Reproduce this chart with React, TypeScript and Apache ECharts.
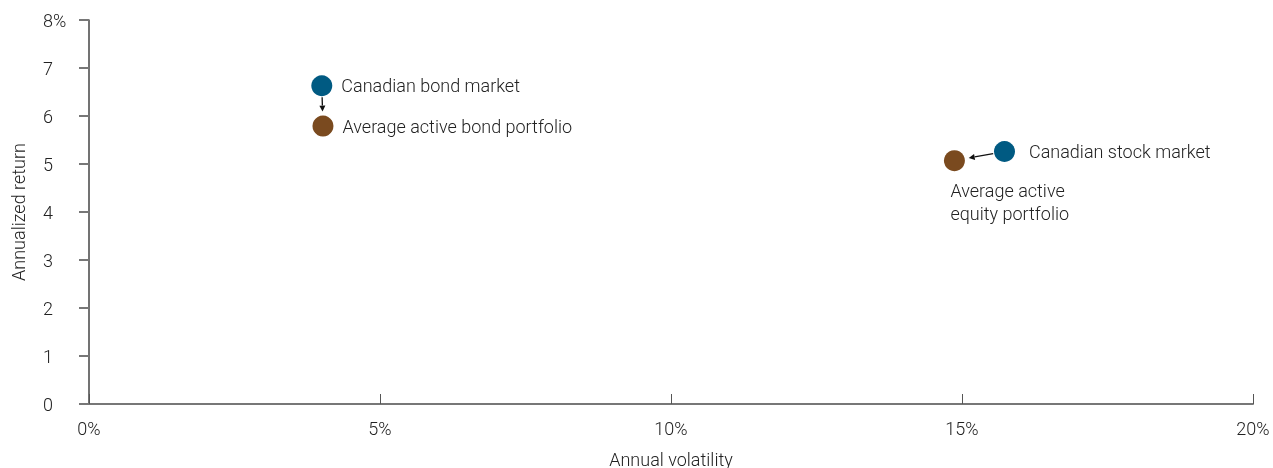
import React, { useEffect, useRef } from "react";
import * as echarts from "echarts";

// Annual volatility (%) and annualized return (%) for each portfolio
const names = [
  "Canadian bond market",
  "Average active bond portfolio",
  "Canadian stock market",
  "Average active\nequity portfolio",
];
const volatility = [4.0, 4.02, 15.73, 14.87];
const annualReturn = [6.63, 5.79, 5.26, 5.07];
const kinds = ["market", "active", "market", "active"];

// Arrows run from each market index to its active-portfolio average
const arrowPairs: [number, number][] = [
  [0, 1],
  [2, 3],
];

const xTicks = [0, 5, 10, 15, 20];
const yTicks = [0, 1, 2, 3, 4, 5, 6, 7, 8];

const BLUE = "#005a82";
const BROWN = "#7a4a1f";
const FONT = "Roboto, 'Helvetica Neue', Arial, sans-serif";
const TEXT = "#222";
const FS = 18;
const FW = 300;
const R = 10.5;

export default function App() {
  const ref = useRef<HTMLDivElement>(null);

  useEffect(() => {
    if (!ref.current) return;
    const chart = echarts.init(ref.current, undefined, { renderer: "svg" });

    const points = names.map((n, i) => ({
      name: n,
      value: [volatility[i], annualReturn[i]],
      itemStyle: { color: kinds[i] === "market" ? BLUE : BROWN, opacity: 1 },
      label:
        i === 3
          ? {
              position: "bottom",
              align: "left",
              distance: 8,
              offset: [-4, 0],
              lineHeight: 23,
            }
          : { position: "right", distance: i === 2 ? 14 : 9 },
    }));

    const arrows = arrowPairs.map(([a, b]) => [
      volatility[a],
      annualReturn[a],
      volatility[b],
      annualReturn[b],
    ]);

    const textStyle = { fontFamily: FONT, fontSize: FS, fontWeight: FW, color: TEXT };

    chart.setOption({
      animation: false,
      grid: {
        left: 89,
        right: 20,
        top: 20,
        bottom: 64,
        containLabel: false,
        outerBoundsMode: "none",
      },
      xAxis: {
        type: "value",
        min: 0,
        max: 20,
        interval: 5,
        name: "Annual volatility",
        nameLocation: "middle",
        nameGap: 46,
        nameTextStyle: textStyle,
        axisLine: { show: true, lineStyle: { color: "#777", width: 2 } },
        axisTick: { show: true, inside: true, length: 10, lineStyle: { color: "#555", width: 1 } },
        axisLabel: {
          margin: 15,
          ...textStyle,
          formatter: (v: number) => (xTicks.includes(v) ? `${v}%` : ""),
        },
        splitLine: { show: false },
      },
      yAxis: {
        type: "value",
        min: 0,
        max: 8,
        interval: 1,
        name: "Annualized return",
        nameLocation: "middle",
        nameGap: 62,
        nameRotate: 90,
        nameTextStyle: textStyle,
        axisLine: { show: true, lineStyle: { color: "#444", width: 1.5 } },
        axisTick: { show: true, length: 10, lineStyle: { color: "#777", width: 2 } },
        axisLabel: {
          margin: 46,
          align: "left",
          ...textStyle,
          formatter: (v: number) =>
            yTicks.includes(v) ? (v === 8 ? `${v}%` : `${v}`) : "",
        },
        splitLine: { show: false },
      },
      series: [
        {
          type: "custom",
          coordinateSystem: "cartesian2d",
          data: arrows,
          silent: true,
          z: 1,
          renderItem: (params: any, api: any) => {
            const p0 = api.coord([api.value(0), api.value(1)]);
            const p1 = api.coord([api.value(2), api.value(3)]);
            const dx = p1[0] - p0[0];
            const dy = p1[1] - p0[1];
            const len = Math.sqrt(dx * dx + dy * dy);
            const ux = dx / len;
            const uy = dy / len;
            const s = [p0[0] + ux * (R + 1), p0[1] + uy * (R + 1)];
            const e = [p1[0] - ux * (R + 4), p1[1] - uy * (R + 4)];
            const head = 6;
            const half = 3;
            const base = [e[0] - ux * head, e[1] - uy * head];
            return {
              type: "group",
              children: [
                {
                  type: "line",
                  shape: { x1: s[0], y1: s[1], x2: base[0], y2: base[1] },
                  style: { stroke: "#111", lineWidth: 1.3 },
                },
                {
                  type: "polygon",
                  shape: {
                    points: [
                      e,
                      [base[0] - uy * half, base[1] + ux * half],
                      [base[0] + uy * half, base[1] - ux * half],
                    ],
                  },
                  style: { fill: "#111" },
                },
              ],
            };
          },
        },
        {
          type: "scatter",
          data: points,
          symbol: "circle",
          symbolSize: R * 2,
          z: 3,
          label: {
            show: true,
            formatter: "{b}",
            ...textStyle,
          },
        },
      ],
    });

    return () => chart.dispose();
  }, []);

  return (
    <div
      ref={ref}
      style={{ position: "fixed", left: 0, top: 0, width: 1273, height: 468 }}
    />
  );
}
